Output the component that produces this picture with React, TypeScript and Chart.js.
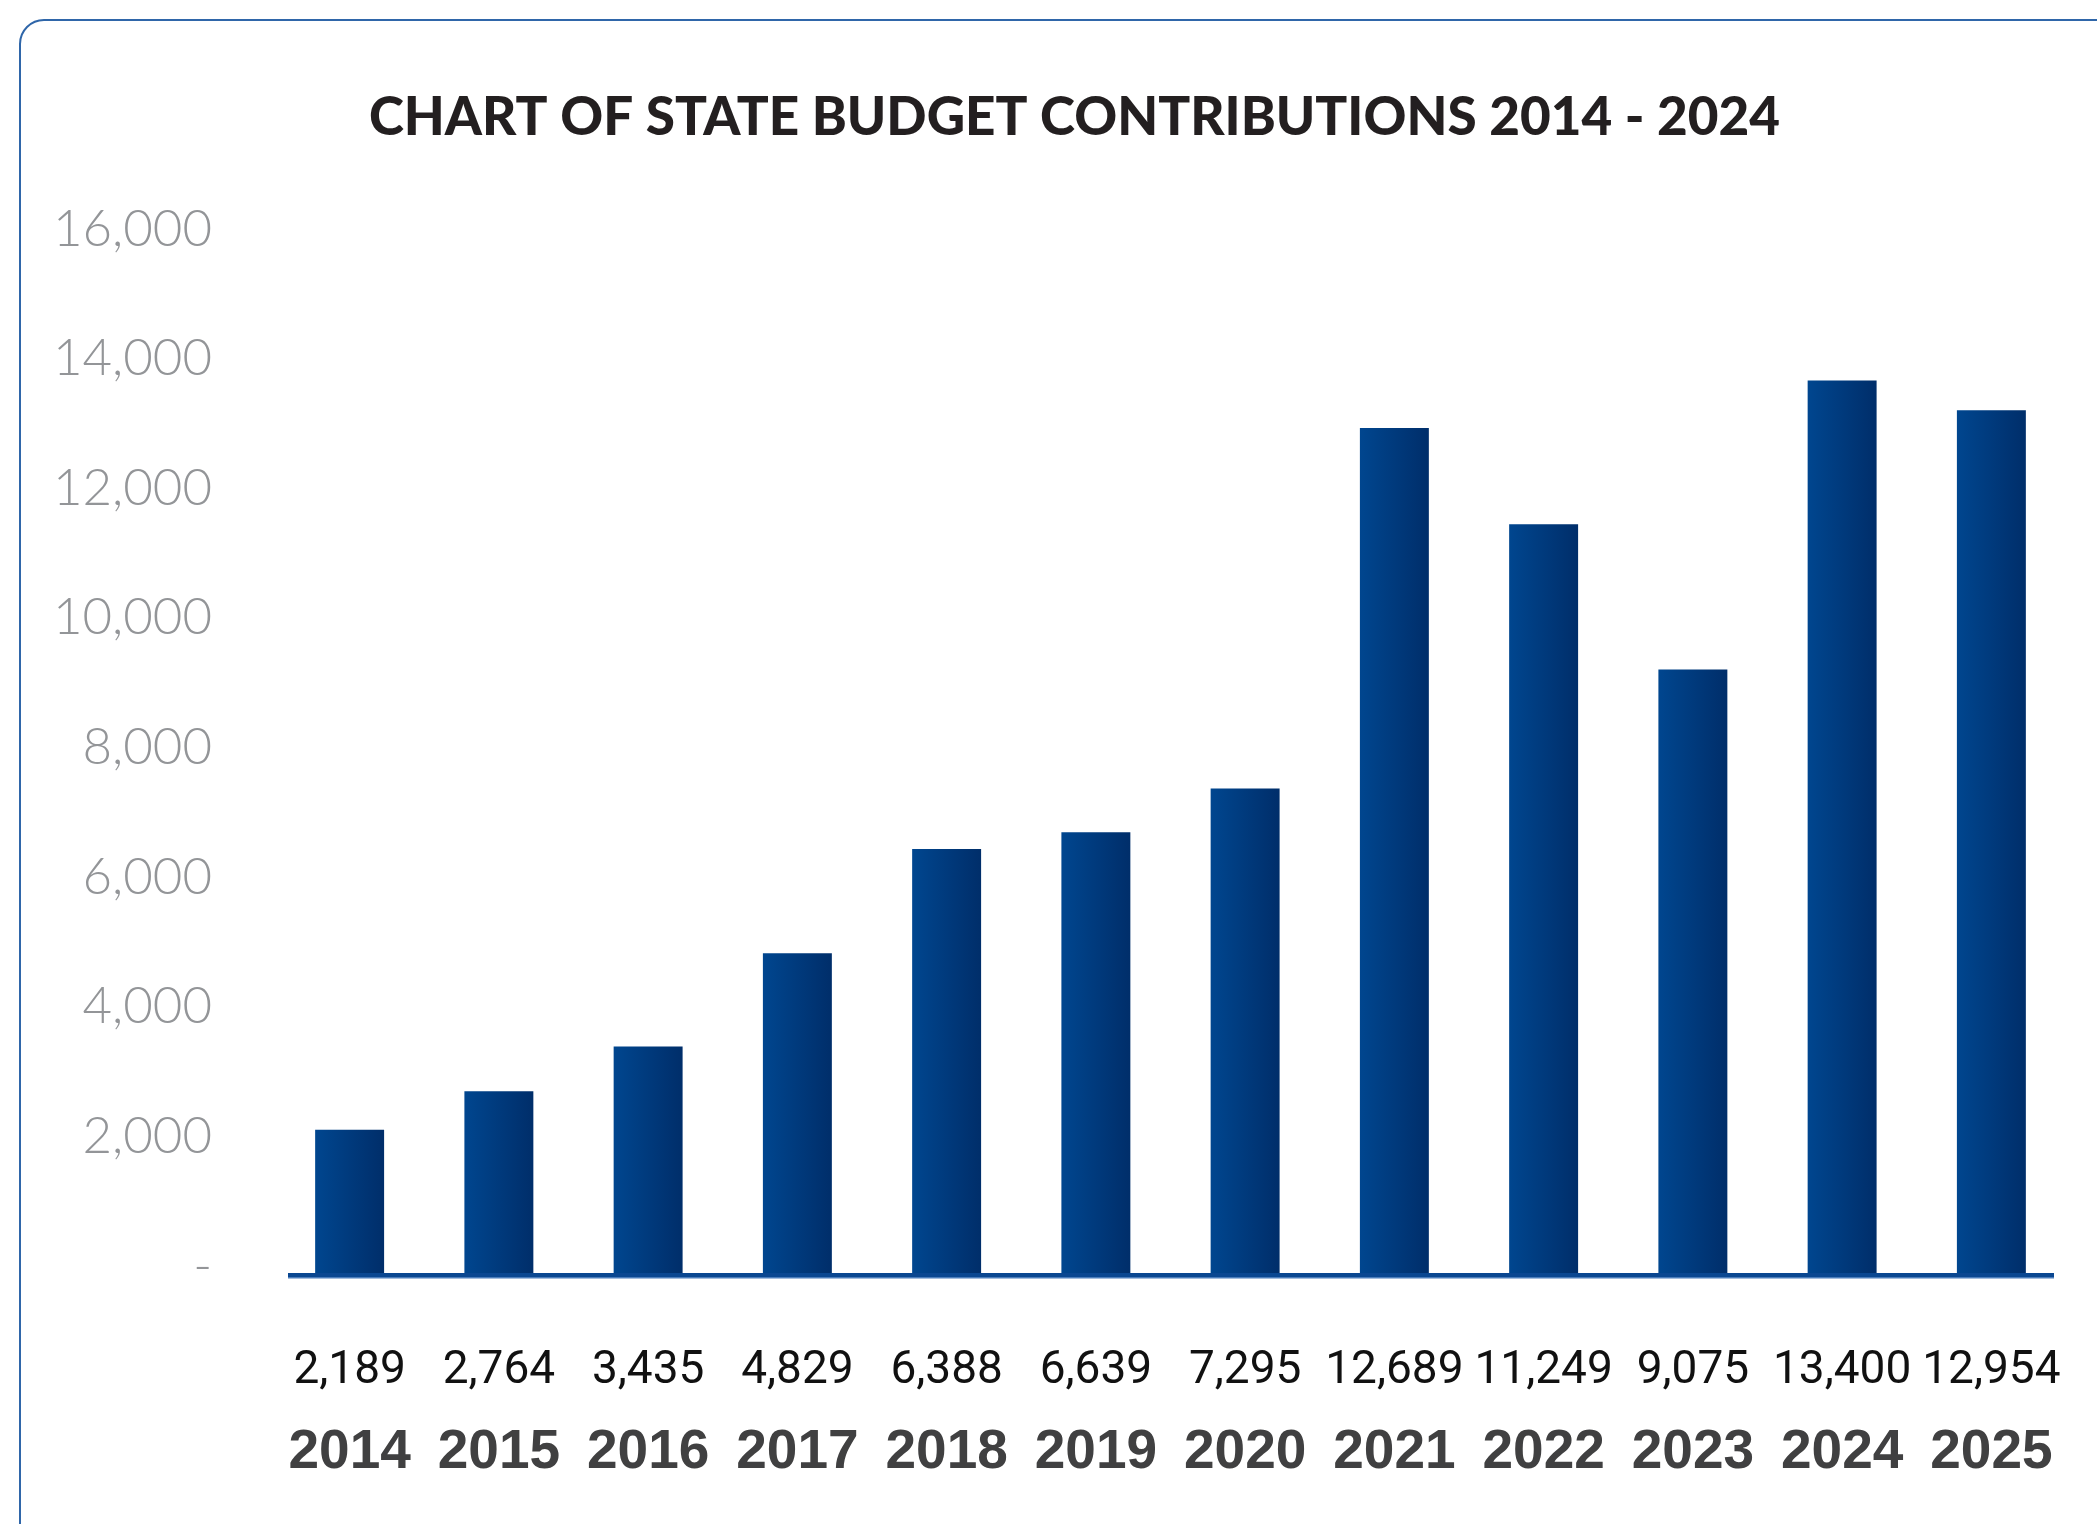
import React, { useEffect, useRef } from "react";
import { Chart, registerables } from "chart.js";

Chart.register(...registerables);

const TITLE = "CHART OF STATE BUDGET CONTRIBUTIONS 2014 - 2024";
const years = ["2014", "2015", "2016", "2017", "2018", "2019", "2020", "2021", "2022", "2023", "2024", "2025"];
const contributions = [2189, 2764, 3435, 4829, 6388, 6639, 7295, 12689, 11249, 9075, 13400, 12954];
const valueLabels = contributions.map((v) => v.toLocaleString("en-US"));
const yTicks = [0, 2000, 4000, 6000, 8000, 10000, 12000, 14000, 16000];
const Y_MIN = 0;
const Y_MAX = 16000;

export default function App() {
  const ref = useRef<HTMLCanvasElement>(null);

  useEffect(() => {
    const canvas = ref.current;
    if (!canvas) return;

    const baseline = {
      id: "baseline",
      afterLayout(chart: any) {
        // shift the title's box so it is centred like the reference
        const t = chart.titleBlock;
        if (t) t.left = 83;
      },
      afterDatasetsDraw(chart: any) {
        const { ctx, chartArea, scales } = chart;
        const y = scales.y.getPixelForValue(0);
        const x0 = chartArea.left + 13;
        const w = chartArea.width - 25;
        ctx.save();
        ctx.fillStyle = "#0a4791";
        ctx.fillRect(x0, y - 3, w, 4);
        ctx.fillStyle = "#4a7dbb";
        ctx.fillRect(x0, y + 1, w, 1.5);
        ctx.restore();
      },
    };

    const barFill = (c: any) => {
      const chart = c.chart;
      const xs = chart.scales && chart.scales.x;
      if (!xs || !chart.chartArea) return "#003b7d";
      const cx = xs.getPixelForValue(c.dataIndex);
      const half = (xs.width / years.length) * 0.462 / 2;
      const g = chart.ctx.createLinearGradient(cx - half, 0, cx + half, 0);
      g.addColorStop(0, "#00468f");
      g.addColorStop(1, "#002e6a");
      return g;
    };

    const noHPad = (s: any, h: number) => {
      s.height = h;
      s.paddingLeft = 0;
      s.paddingRight = 0;
    };

    const chart = new Chart(canvas, {
      type: "bar",
      data: {
        labels: valueLabels,
        datasets: [
          {
            data: contributions,
            backgroundColor: barFill,
            borderWidth: 0,
            categoryPercentage: 1,
            barPercentage: 0.462,
            xAxisID: "x",
            yAxisID: "y",
          },
        ],
      },
      options: {
        responsive: false,
        animation: false,
        devicePixelRatio: 1,
        layout: { padding: { left: 25, right: 31, top: 86, bottom: 39 } },
        plugins: {
          legend: { display: false },
          tooltip: { enabled: false },
          title: {
            display: true,
            text: TITLE,
            color: "#231f20",
            font: { family: "Lato", size: 53, weight: "900", lineHeight: 1.2 },
            padding: { top: 0, bottom: 57 },
          },
        },
        scales: {
          x: {
            type: "category",
            position: "bottom",
            weight: 0,
            offset: true,
            grid: { display: false, drawTicks: false },
            border: { display: false },
            ticks: {
              autoSkip: false,
              maxRotation: 0,
              minRotation: 0,
              padding: 68,
              color: "#111111",
              font: { family: "Roboto", size: 46, weight: "400", lineHeight: 1.2 },
            },
            afterFit: (s: any) => noHPad(s, 124),
          },
          x2: {
            type: "category",
            position: "bottom",
            weight: 1,
            labels: years,
            offset: true,
            grid: { display: false, drawTicks: false },
            border: { display: false },
            ticks: {
              autoSkip: false,
              maxRotation: 0,
              minRotation: 0,
              padding: 20,
              color: "#404041",
              font: { family: "Liberation Sans", size: 55, weight: "bold", lineHeight: 1.2 },
            },
            afterFit: (s: any) => noHPad(s, 85),
          },
          y: {
            type: "linear",
            display: false,
            min: Y_MIN,
            max: Y_MAX,
          },
          y2: {
            type: "linear",
            position: "left",
            min: -153,
            max: 16348,
            grid: { display: false, drawTicks: false },
            border: { display: false },
            afterBuildTicks: (s: any) => {
              s.ticks = yTicks.map((v) => ({ value: v }));
            },
            ticks: {
              padding: 63,
              color: "#939598",
              font: { family: "Lato", size: 51, weight: "300" },
              callback: (v: any) => (Number(v) === 0 ? "-" : Number(v).toLocaleString("en-US")),
            },
            afterFit: (s: any) => {
              s.width = 250;
              s.paddingTop = 0;
              s.paddingBottom = 0;
            },
          },
        },
      },
      plugins: [baseline],
    });

    return () => chart.destroy();
  }, []);

  return (
    <div
      style={{
        position: "absolute",
        left: 0,
        top: 0,
        width: 2097,
        height: 1524,
        overflow: "hidden",
        background: "#ffffff",
      }}
    >
      <div
        style={{
          position: "absolute",
          left: 19,
          top: 19,
          width: 2300,
          height: 1800,
          border: "2px solid #2f66a9",
          borderRadius: 25,
          boxSizing: "border-box",
        }}
      />
      <canvas
        ref={ref}
        width={2097}
        height={1524}
        style={{ position: "absolute", left: 0, top: 0, width: 2097, height: 1524 }}
      />
    </div>
  );
}
